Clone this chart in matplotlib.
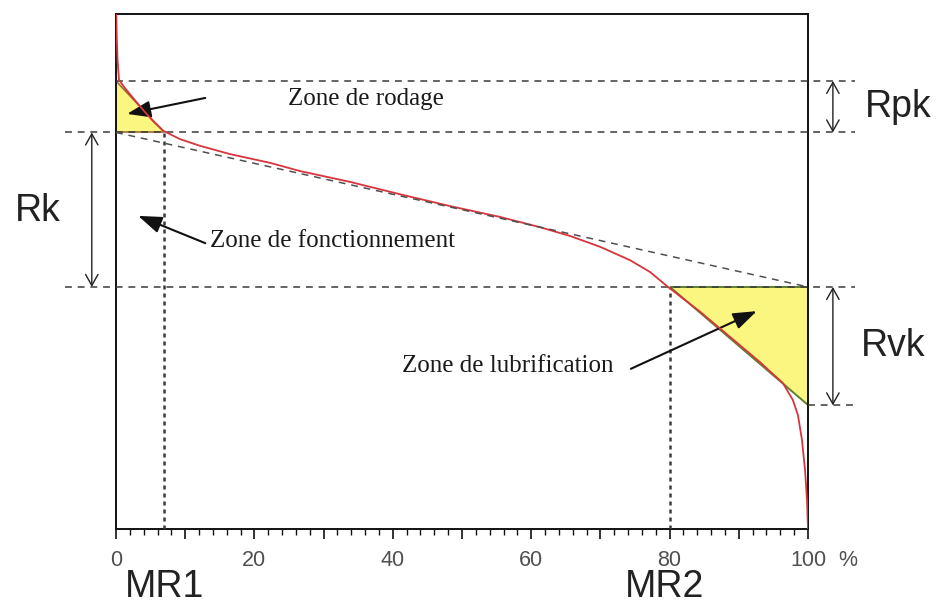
import matplotlib.pyplot as plt
from matplotlib.patches import Polygon

# Abbott-Firestone bearing curve (material ratio % vs height)
bearing = [0.04, 0.12, 0.22, 0.43, 1.30, 2.46, 3.90, 5.35, 6.86,
           9.25, 12.14, 16.47, 22.25, 26.59, 33.82, 41.04, 48.27, 55.49,
           61.27, 65.61, 69.94, 74.28, 77.17, 79.77,
           84.39, 88.73, 93.06, 96.39, 97.83, 98.55, 99.13, 99.57, 99.86, 100.0]
height = [9.98, 9.50, 9.11, 8.72, 8.56, 8.37, 8.14, 7.92, 7.73,
          7.57, 7.44, 7.28, 7.11, 6.95, 6.74, 6.50, 6.27, 6.06,
          5.86, 5.69, 5.48, 5.22, 4.99, 4.70,
          4.22, 3.73, 3.24, 2.83, 2.50, 2.21, 1.73, 1.15, 0.56, 0.0]

# Rk construction levels and material ratios
rpk_top = 8.7
rk_top = 7.7
rk_bottom = 4.7
rvk_bottom = 2.4
mr1 = 6.9
mr2 = 80.0

tick_pos = list(range(0, 101, 10))
tick_labels = ['0', '', '20', '', '40', '', '60', '', '80', '', '100']

dash = (0, (4.5, 3.8))
dot = (0, (1.6, 1.6))
line_col = '#3a3a3a'
sans = ['Liberation Sans', 'DejaVu Sans']
serif = ['Liberation Serif', 'DejaVu Serif']

fig = plt.figure(figsize=(9.47, 6.06), dpi=100)
ax = fig.add_axes([0.1225, 0.1271, 0.7307, 0.8498])
ax.set_xlim(0, 100)
ax.set_ylim(0, 10)

for side in ['left', 'right', 'top', 'bottom']:
    ax.spines[side].set_linewidth(1.4)
    ax.spines[side].set_color('#111111')

ax.set_yticks([])
ax.set_xticks(tick_pos)
ax.set_xticklabels(tick_labels, family=sans, fontsize=15.5, color='#505050')
ax.set_xticks(range(0, 101, 2), minor=True)
ax.tick_params(axis='x', which='major', length=7, width=1.2, pad=8,
               direction='out', color='#111111')
ax.tick_params(axis='x', which='minor', length=4, width=1.0,
               direction='out', color='#111111')
ax.text(104.4, -0.40, '%', family=sans, fontsize=15.5, color='#505050',
        ha='left', va='top', clip_on=False)

# yellow triangles for Rpk and Rvk areas
tri_pk = Polygon([(0, rpk_top), (0, rk_top), (mr1, rk_top)], closed=True,
                 facecolor='#fbf67f', edgecolor='#a06a30', lw=1.2, zorder=2)
tri_vk = Polygon([(mr2, rk_bottom), (100, rk_bottom), (100, rvk_bottom)],
                 closed=True, facecolor='#fbf67f', edgecolor='#5f7f30',
                 lw=1.4, zorder=2)
ax.add_patch(tri_pk)
ax.add_patch(tri_vk)

# horizontal construction lines
ax.plot([0, 106.8], [rpk_top, rpk_top], ls=dash, lw=1.1, color=line_col,
        clip_on=False, zorder=3)
ax.plot([-7.4, 106.8], [rk_top, rk_top], ls=dash, lw=1.1, color=line_col,
        clip_on=False, zorder=3)
ax.plot([-7.4, 106.8], [rk_bottom, rk_bottom], ls=dash, lw=1.1,
        color=line_col, clip_on=False, zorder=3)
ax.plot([100, 106.8], [rvk_bottom, rvk_bottom], ls=dash, lw=1.1,
        color=line_col, clip_on=False, zorder=3)

# vertical lines at MR1 and MR2
ax.plot([mr1, mr1], [0, rk_top], ls=dot, lw=1.8, color=line_col, zorder=3)
ax.plot([mr2, mr2], [0, rk_bottom], ls=dot, lw=1.8, color=line_col, zorder=3)

# bearing curve and its equivalent straight line
ax.plot(bearing, height, color='#d8343c', lw=1.3, zorder=4)
ax.plot([0, 100], [rk_top, rk_bottom], ls=dash, lw=1.1, color='#505050',
        zorder=5)

# Rk / Rpk / Rvk dimension arrows
dim = dict(arrowstyle='<->,head_length=0.5,head_width=0.28',
           mutation_scale=16, lw=1.0, color='#222222', shrinkA=0, shrinkB=0)
ax.annotate('', xy=(-3.5, rk_top), xytext=(-3.5, rk_bottom),
            arrowprops=dim, annotation_clip=False)
ax.annotate('', xy=(103.6, rpk_top), xytext=(103.6, rk_top),
            arrowprops=dim, annotation_clip=False)
ax.annotate('', xy=(103.6, rk_bottom), xytext=(103.6, rvk_bottom),
            arrowprops=dim, annotation_clip=False)

big = dict(family=sans, fontsize=27, color='#222222', clip_on=False)
ax.text(-11.3, 6.17, 'Rk', ha='center', va='center', **big)
ax.text(108.2, 8.2, 'Rpk', ha='left', va='center', **big)
ax.text(107.6, 3.55, 'Rvk', ha='left', va='center', **big)
ax.text(1.3, -1.48, 'MR1', ha='left', va='bottom', **big)
ax.text(73.6, -1.48, 'MR2', ha='left', va='bottom', **big)

# zone labels with pointers
pointer = dict(arrowstyle='-|>,head_length=0.9,head_width=0.32',
               mutation_scale=16, lw=1.5, color='#111111',
               shrinkA=0, shrinkB=0)
zone = dict(family=serif, fontsize=18, color='#1a1a1a', ha='left',
            va='baseline')
ax.text(24.9, 8.23, 'Zone de rodage', **zone)
ax.annotate('', xy=(1.6, 8.06), xytext=(12.9, 8.37), arrowprops=pointer)

ax.text(13.6, 5.48, 'Zone de fonctionnement', **zone)
ax.annotate('', xy=(3.2, 6.08), xytext=(12.9, 5.55), arrowprops=pointer)

ax.text(41.3, 3.05, 'Zone de lubrification', **zone)
ax.annotate('', xy=(92.6, 4.23), xytext=(74.4, 3.11), arrowprops=pointer)

fig.savefig('out.png', dpi=100)
